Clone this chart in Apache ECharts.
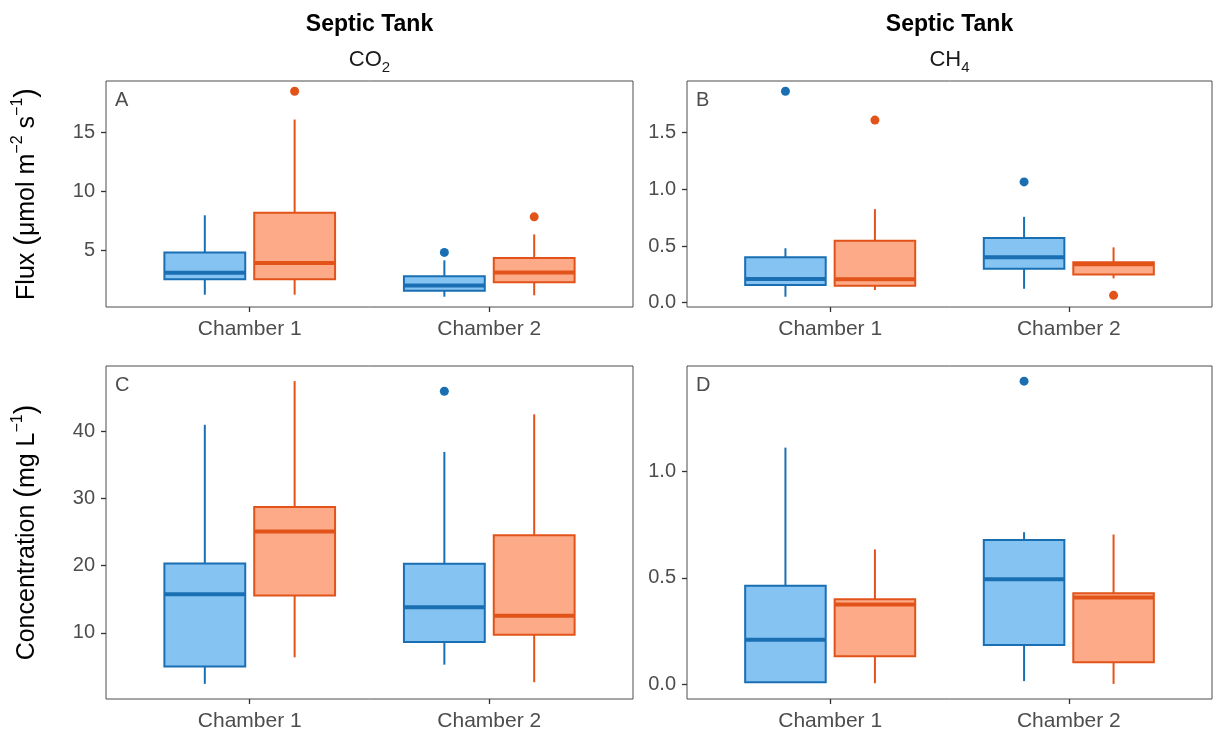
<!DOCTYPE html>
<html>
<head>
<meta charset="utf-8">
<script src="https://cdn.jsdelivr.net/npm/echarts@6/dist/echarts.min.js"></script>
<style>html,body{margin:0;padding:0;background:#fff}#c{width:1214px;height:734px}</style>
</head>
<body>
<div id="c"></div>
<script>
// ---------- DATA ----------
const categories = ['Chamber 1', 'Chamber 2'];
// box stats per chamber: [lower whisker, Q1, median, Q3, upper whisker]
const fluxCO2Blue = [[1.28, 2.58, 3.14, 4.86, 8.0], [1.11, 1.62, 2.05, 2.84, 4.19]];
const fluxCO2Orange = [[1.28, 2.58, 3.96, 8.21, 16.1], [1.23, 2.33, 3.17, 4.38, 6.38]];
const fluxCO2BlueOut = [[2, 4.86]];
const fluxCO2OrangeOut = [[1, 18.49], [2, 7.87]];

const fluxCH4Blue = [[0.053, 0.156, 0.21, 0.40, 0.48], [0.123, 0.30, 0.40, 0.57, 0.757]];
const fluxCH4Orange = [[0.112, 0.15, 0.206, 0.546, 0.825], [0.215, 0.25, 0.34, 0.358, 0.488]];
const fluxCH4BlueOut = [[1, 1.864], [2, 1.065]];
const fluxCH4OrangeOut = [[1, 1.61], [2, 0.065]];

const concCO2Blue = [[2.39, 4.96, 15.74, 20.34, 41.0], [5.25, 8.62, 13.8, 20.3, 36.96]];
const concCO2Orange = [[6.35, 15.55, 25.09, 28.75, 47.5], [2.64, 9.71, 12.53, 24.54, 42.55]];
const concCO2BlueOut = [[2, 46.0]];
const concCO2OrangeOut = [];

const concCH4Blue = [[0.01, 0.011, 0.21, 0.463, 1.112], [0.016, 0.186, 0.494, 0.678, 0.715]];
const concCH4Orange = [[0.006, 0.133, 0.376, 0.40, 0.634], [0.003, 0.105, 0.408, 0.428, 0.704]];
const concCH4BlueOut = [[2, 1.424]];
const concCH4OrangeOut = [];

const fluxCO2Ticks = [5, 10, 15];
const fluxCH4Ticks = [0, 0.5, 1.0, 1.5];
const concCO2Ticks = [10, 20, 30, 40];
const concCH4Ticks = [0, 0.5, 1.0];

const panelLetters = ['A', 'B', 'C', 'D'];
const columnTitle = 'Septic Tank';

// ---------- STYLE ----------
const FONT = "'Liberation Sans', Arial, sans-serif";
const BLUE_FILL = '#85C3F2', BLUE_LINE = '#1A6FB3';
const ORANGE_FILL = '#FCAA87', ORANGE_LINE = '#E2531A';
const DODGE = 0.1875, BOX_W = 0.3375;
const TXT = '#4d4d4d';

const grids = [
  { left: 106, top: 81, width: 527, height: 226 },
  { left: 687, top: 81, width: 525, height: 226 },
  { left: 106, top: 366, width: 527, height: 333 },
  { left: 687, top: 366, width: 525, height: 333 }
];

const panels = [
  { blue: fluxCO2Blue, orange: fluxCO2Orange, bOut: fluxCO2BlueOut, oOut: fluxCO2OrangeOut, ticks: fluxCO2Ticks, dec: 0 },
  { blue: fluxCH4Blue, orange: fluxCH4Orange, bOut: fluxCH4BlueOut, oOut: fluxCH4OrangeOut, ticks: fluxCH4Ticks, dec: 1 },
  { blue: concCO2Blue, orange: concCO2Orange, bOut: concCO2BlueOut, oOut: concCO2OrangeOut, ticks: concCO2Ticks, dec: 0 },
  { blue: concCH4Blue, orange: concCH4Orange, bOut: concCH4BlueOut, oOut: concCH4OrangeOut, ticks: concCH4Ticks, dec: 1 }
];

function extent(p) {
  const vals = [];
  p.blue.concat(p.orange).forEach(r => r.forEach(v => vals.push(v)));
  p.bOut.concat(p.oOut).forEach(o => vals.push(o[1]));
  const mn = Math.min(...vals), mx = Math.max(...vals), r = mx - mn;
  return [mn - 0.05 * r, mx + 0.05 * r];
}

function boxSeries(stats, offset, fill, line, gi) {
  return {
    type: 'custom',
    xAxisIndex: gi, yAxisIndex: gi,
    data: stats.map((s, i) => [i + 1 + offset].concat(s)),
    encode: { x: 0, y: [1, 2, 3, 4, 5] },
    renderItem: function (params, api) {
      const x = api.value(0);
      const lo = api.coord([x, api.value(1)]);
      const q1 = api.coord([x, api.value(2)]);
      const md = api.coord([x, api.value(3)]);
      const q3 = api.coord([x, api.value(4)]);
      const hi = api.coord([x, api.value(5)]);
      const w = api.size([BOX_W, 0])[0];
      const cx = lo[0];
      return {
        type: 'group',
        children: [
          { type: 'line', shape: { x1: cx, y1: lo[1], x2: cx, y2: q1[1] }, style: { stroke: line, lineWidth: 2 } },
          { type: 'line', shape: { x1: cx, y1: q3[1], x2: cx, y2: hi[1] }, style: { stroke: line, lineWidth: 2 } },
          { type: 'rect', shape: { x: cx - w / 2, y: q3[1], width: w, height: q1[1] - q3[1] }, style: { fill: fill, stroke: line, lineWidth: 2 } },
          { type: 'line', shape: { x1: cx - w / 2, y1: md[1], x2: cx + w / 2, y2: md[1] }, style: { stroke: line, lineWidth: 4 } }
        ]
      };
    },
    z: 2
  };
}

function outSeries(pts, offset, color, gi) {
  return {
    type: 'scatter', xAxisIndex: gi, yAxisIndex: gi,
    data: pts.map(p => [p[0] + offset, p[1]]),
    symbol: 'circle', symbolSize: 9,
    itemStyle: { color: color, opacity: 1 },
    z: 3
  };
}

const xAxes = [], yAxes = [], series = [];
panels.forEach((p, gi) => {
  const ext = extent(p);
  xAxes.push({
    type: 'value', gridIndex: gi, min: 0.4, max: 2.6, position: 'bottom',
    axisLine: { show: false, onZero: false },
    splitLine: { show: false },
    axisTick: { show: true, customValues: [1, 2], length: 5, lineStyle: { color: '#333', width: 1.3 } },
    axisLabel: { customValues: [1, 2], formatter: v => categories[Math.round(v) - 1], fontSize: 21, color: TXT, fontFamily: FONT, margin: 12 }
  });
  yAxes.push({
    type: 'value', gridIndex: gi, min: ext[0], max: ext[1], position: 'left',
    axisLine: { show: false, onZero: false },
    splitLine: { show: false },
    axisTick: { show: true, customValues: p.ticks, length: 5, lineStyle: { color: '#333', width: 1.3 } },
    axisLabel: { customValues: p.ticks, formatter: v => Number(v).toFixed(p.dec), fontSize: 20, color: TXT, fontFamily: FONT, margin: 11 }
  });
  series.push(boxSeries(p.blue, -DODGE, BLUE_FILL, BLUE_LINE, gi));
  series.push(boxSeries(p.orange, DODGE, ORANGE_FILL, ORANGE_LINE, gi));
  series.push(outSeries(p.bOut, -DODGE, BLUE_LINE, gi));
  series.push(outSeries(p.oOut, DODGE, ORANGE_LINE, gi));
});

const graphics = [];
[369.5, 949.5].forEach((cx, i) => {
  graphics.push({ type: 'text', x: cx, y: 25, style: { text: columnTitle, font: 'bold 23px ' + FONT, fill: '#000', align: 'center', verticalAlign: 'middle', textAlign: 'center', textVerticalAlign: 'middle' } });
  graphics.push({ type: 'text', x: cx, y: 60, style: {
    text: i === 0 ? '{n|CO}{b|2}' : '{n|CH}{b|4}',
    align: 'center', verticalAlign: 'middle', textAlign: 'center', textVerticalAlign: 'middle',
    rich: {
      n: { fontSize: 22, fontFamily: FONT, fill: '#1a1a1a', lineHeight: 30 },
      b: { fontSize: 15, fontFamily: FONT, fill: '#1a1a1a', lineHeight: 18, verticalAlign: 'bottom' }
    }
  } });
});
const letterPos = [[115, 100.5], [696, 100.5], [115, 385], [696, 385]];
panelLetters.forEach((L, i) => {
  graphics.push({ type: 'text', x: letterPos[i][0], y: letterPos[i][1], style: { text: L, font: '20px ' + FONT, fill: TXT, align: 'left', verticalAlign: 'middle', textAlign: 'left', textVerticalAlign: 'middle' } });
});
const yRich = {
  n: { fontSize: 25, fontFamily: FONT, fill: '#000', lineHeight: 34 },
  p: { fontSize: 29, fontFamily: FONT, fill: '#000', lineHeight: 34 },
  s: { fontSize: 16, fontFamily: FONT, fill: '#000', lineHeight: 19, verticalAlign: 'top' }
};
graphics.push({ type: 'text', x: 27, y: 194, rotation: Math.PI / 2, style: {
  text: '{n|Flux }{p|(}{n|μmol m}{s|−2}{n| s}{s|−1}{p|)}', rich: yRich,
  align: 'center', verticalAlign: 'middle', textAlign: 'center', textVerticalAlign: 'middle' } });
graphics.push({ type: 'text', x: 27, y: 532.5, rotation: Math.PI / 2, style: {
  text: '{n|Concentration }{p|(}{n|mg L}{s|−1}{p|)}', rich: yRich,
  align: 'center', verticalAlign: 'middle', textAlign: 'center', textVerticalAlign: 'middle' } });

const chart = echarts.init(document.getElementById('c'), null, { renderer: 'canvas' });
chart.setOption({
  backgroundColor: '#fff',
  animation: false,
  textStyle: { fontFamily: FONT },
  grid: grids.map(g => Object.assign({ show: true, borderColor: '#4d4d4d', borderWidth: 1, backgroundColor: 'transparent', containLabel: false }, g)),
  xAxis: xAxes,
  yAxis: yAxes,
  series: series,
  graphic: { elements: graphics }
});
</script>
</body>
</html>
